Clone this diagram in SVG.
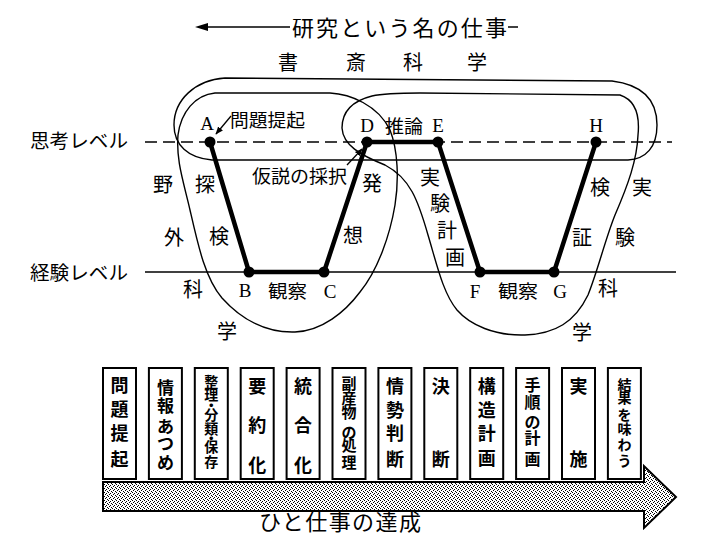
<svg xmlns="http://www.w3.org/2000/svg" width="706" height="542" viewBox="0 0 706 542">
<defs>
<style>
text{text-anchor:middle;fill:#000}
.j{font-family:"Noto Sans CJK JP","Noto Sans CJK SC",sans-serif}
.s{font-family:"Liberation Serif",serif;font-size:19px}
.v{font-family:"Noto Sans CJK JP","Noto Sans CJK SC",sans-serif;font-size:20px}
.curve{fill:none;stroke:#000;stroke-width:1.4}
.thick{fill:none;stroke:#000;stroke-width:4.5;stroke-linejoin:round}
.lvl{fill:none;stroke:#000;stroke-width:1.5}
.thin{fill:none;stroke:#000;stroke-width:1.3}
.box rect{fill:#fff;stroke:#000;stroke-width:2}
.box text{font-family:"Noto Sans CJK JP","Noto Sans CJK SC",sans-serif;font-weight:bold}
</style>
<marker id="ah" viewBox="0 0 10 10" refX="9" refY="5" markerWidth="6" markerHeight="6" orient="auto"><path d="M0,1 L10,5 L0,9 z" fill="#000"/></marker>
<pattern id="dots" width="4" height="4" patternUnits="userSpaceOnUse"><rect width="4" height="4" fill="#fff"/><rect x="0" y="0" width="1" height="1" fill="#000"/><rect x="2" y="1" width="1" height="1" fill="#000"/><rect x="1" y="2" width="1" height="1" fill="#000"/><rect x="3" y="3" width="1" height="1" fill="#000"/></pattern>
</defs>
<rect width="706" height="542" fill="#fff"/>

<g id="title">
<line x1="205" y1="27" x2="290" y2="27" class="lvl"/>
<polygon points="195,27 208,23 208,31" fill="#000"/>
<text class="j" x="292" y="36" font-size="22" textLength="215" lengthAdjust="spacing" style="text-anchor:start">研究という名の仕事</text>
<line x1="508" y1="27" x2="518" y2="27" class="lvl"/>
</g>

<g id="shosai-label" class="v">
<text x="288" y="69.5">書</text>
<text x="356" y="69.5">斎</text>
<text x="413" y="69.5">科</text>
<text x="477" y="69.5">学</text>
</g>

<g id="levels">
<line x1="145" y1="142" x2="672" y2="142" class="lvl" stroke-dasharray="12 6"/>
<line x1="145" y1="272" x2="676" y2="272" class="lvl"/>
<text class="j" x="30" y="148" font-size="19" textLength="98" lengthAdjust="spacingAndGlyphs" style="text-anchor:start">思考レベル</text>
<text class="j" x="30" y="280" font-size="19" textLength="98" lengthAdjust="spacingAndGlyphs" style="text-anchor:start">経験レベル</text>
</g>

<g id="regions">
<path id="shosai" class="curve" d="M 225,78 L 612,81 C 645,85 657,102 657,125 C 657,147 646,159 628,160 L 212,160 C 188,158 174,145 174,125 C 174,100 195,80 225,78 Z"/>
<path id="yagai" class="curve" d="M 330,93 C 350,94 378,105 390,130 C 398,150 399,180 395,205 C 390,235 378,270 360,292 C 345,312 322,331 295,332 C 265,333 240,318 222,298 C 205,278 198,245 190,210 C 183,180 176,160 178,135 C 181,112 195,95 215,93 Z"/>
<path id="jikken" class="curve" d="M 620,95 C 635,100 640,115 638,135 C 637,160 628,185 615,215 C 605,240 598,270 588,295 C 575,322 555,334 525,335 C 495,336 470,325 457,310 C 443,293 437,265 428,235 C 418,200 410,178 385,165 C 360,155 343,145 342,128 C 342,112 352,101 372,96 C 385,93 400,93 420,93 Z"/>
</g>

<g id="connectors">
<path class="thick" d="M 210,142 L 249,272 L 324,272 L 367,142 L 438,142 L 480,272 L 554,272 L 596,142"/>
<line class="thin" x1="231" y1="116" x2="216" y2="134" marker-end="url(#ah)"/>
<line class="thin" x1="347" y1="165" x2="362" y2="149" marker-end="url(#ah)"/>
</g>

<g id="node-A"><circle cx="210" cy="142" r="5.5"/><text class="s" x="207" y="130">A</text></g>
<g id="node-B"><circle cx="249" cy="272" r="5.5"/><text class="s" x="245" y="297">B</text></g>
<g id="node-C"><circle cx="324" cy="272" r="5.5"/><text class="s" x="330" y="298">C</text></g>
<g id="node-D"><circle cx="367" cy="142" r="5.5"/><text class="s" x="367" y="132">D</text></g>
<g id="node-E"><circle cx="438" cy="142" r="5.5"/><text class="s" x="438" y="132">E</text></g>
<g id="node-F"><circle cx="480" cy="272" r="5.5"/><text class="s" x="475" y="298">F</text></g>
<g id="node-G"><circle cx="554" cy="272" r="5.5"/><text class="s" x="560" y="298">G</text></g>
<g id="node-H"><circle cx="596" cy="142" r="5.5"/><text class="s" x="596" y="132">H</text></g>

<g id="labels" class="j" font-size="18">
<text x="230" y="127" textLength="75" lengthAdjust="spacingAndGlyphs" style="text-anchor:start">問題提起</text>
<text x="252" y="182.5" textLength="95" lengthAdjust="spacingAndGlyphs" style="text-anchor:start">仮説の採択</text>
<text x="385" y="133" textLength="38" lengthAdjust="spacingAndGlyphs" style="text-anchor:start">推論</text>
<text x="268" y="298" textLength="39" lengthAdjust="spacingAndGlyphs" style="text-anchor:start">観察</text>
<text x="498" y="298" textLength="40" lengthAdjust="spacingAndGlyphs" style="text-anchor:start">観察</text>
</g>

<g id="vlabels" class="v">
<text x="163" y="191.6">野</text>
<text x="174" y="244.6">外</text>
<text x="193" y="296.6">科</text>
<text x="227" y="338.6">学</text>
<text x="205" y="191.6">探</text>
<text x="219" y="243.6">検</text>
<text x="372" y="190.6">発</text>
<text x="353" y="242.6">想</text>
<text x="430" y="184.6">実</text>
<text x="440" y="210.6">験</text>
<text x="447" y="237.6">計</text>
<text x="455" y="264.6">画</text>
<text x="600" y="194.6">検</text>
<text x="582" y="244.6">証</text>
<text x="642" y="194.6">実</text>
<text x="625" y="244.6">験</text>
<text x="608" y="295.6">科</text>
<text x="582" y="339.6">学</text>
</g>

<g id="progress-arrow">
<polygon points="103,482 644,482 644,466 676,497 644,528 644,511 103,511" fill="url(#dots)" stroke="#000" stroke-width="2" stroke-linejoin="miter"/>
<text class="j" x="259" y="530" font-size="22" textLength="162" lengthAdjust="spacing" style="text-anchor:start">ひと仕事の達成</text>
</g>

<g id="box1" class="box"><rect x="103" y="368" width="33" height="111"/>
<g font-size="18"><text x="119.5" y="391.8">問</text><text x="119.5" y="415.8">題</text><text x="119.5" y="439.8">提</text><text x="119.5" y="465.8">起</text></g></g>
<g id="box2" class="box"><rect x="148.9" y="368" width="33" height="111"/>
<g font-size="17"><text x="165.4" y="393.5">情</text><text x="165.4" y="411.5">報</text><text x="165.4" y="432.5">あ</text><text x="165.4" y="449.5">つ</text><text x="165.4" y="468.5">め</text></g></g>
<g id="box3" class="box"><rect x="194.8" y="368" width="33" height="111"/>
<g font-size="14"><text x="211.3" y="387.3">整</text><text x="211.3" y="400.3">理</text><text x="211.3" y="410.3">・</text><text x="211.3" y="420.3">分</text><text x="211.3" y="434.3">類</text><text x="211.3" y="443.3">・</text><text x="211.3" y="452.3">保</text><text x="211.3" y="467.3">存</text></g></g>
<g id="box4" class="box"><rect x="240.7" y="368" width="33" height="111"/>
<g font-size="18"><text x="257.2" y="392.8">要</text><text x="257.2" y="431.8">約</text><text x="257.2" y="471.8">化</text></g></g>
<g id="box5" class="box"><rect x="286.6" y="368" width="33" height="111"/>
<g font-size="18"><text x="303.1" y="392.8">統</text><text x="303.1" y="431.8">合</text><text x="303.1" y="471.8">化</text></g></g>
<g id="box6" class="box"><rect x="332.5" y="368" width="33" height="111"/>
<g font-size="15"><text x="349" y="388.7">副</text><text x="349" y="403.7">産</text><text x="349" y="417.7">物</text><text x="349" y="437.7">の</text><text x="349" y="450.7">処</text><text x="349" y="467.7">理</text></g></g>
<g id="box7" class="box"><rect x="378.4" y="368" width="33" height="111"/>
<g font-size="18"><text x="394.9" y="392.8">情</text><text x="394.9" y="416.8">勢</text><text x="394.9" y="439.8">判</text><text x="394.9" y="465.8">断</text></g></g>
<g id="box8" class="box"><rect x="424.3" y="368" width="33" height="111"/>
<g font-size="18"><text x="440.8" y="392.8">決</text><text x="440.8" y="465.8">断</text></g></g>
<g id="box9" class="box"><rect x="470.2" y="368" width="33" height="111"/>
<g font-size="18"><text x="486.7" y="392.8">構</text><text x="486.7" y="416.8">造</text><text x="486.7" y="439.8">計</text><text x="486.7" y="464.8">画</text></g></g>
<g id="box10" class="box"><rect x="516.1" y="368" width="33" height="111"/>
<g font-size="16"><text x="532.6" y="391.1">手</text><text x="532.6" y="408.1">順</text><text x="532.6" y="428.1">の</text><text x="532.6" y="444.1">計</text><text x="532.6" y="465.1">画</text></g></g>
<g id="box11" class="box"><rect x="562" y="368" width="33" height="111"/>
<g font-size="18"><text x="578.5" y="392.8">実</text><text x="578.5" y="465.8">施</text></g></g>
<g id="box12" class="box"><rect x="607.9" y="368" width="33" height="111"/>
<g font-size="14"><text x="624.4" y="390.3">結</text><text x="624.4" y="403.3">果</text><text x="624.4" y="420.3">を</text><text x="624.4" y="434.3">味</text><text x="624.4" y="450.3">わ</text><text x="624.4" y="466.3">う</text></g></g>
</svg>
